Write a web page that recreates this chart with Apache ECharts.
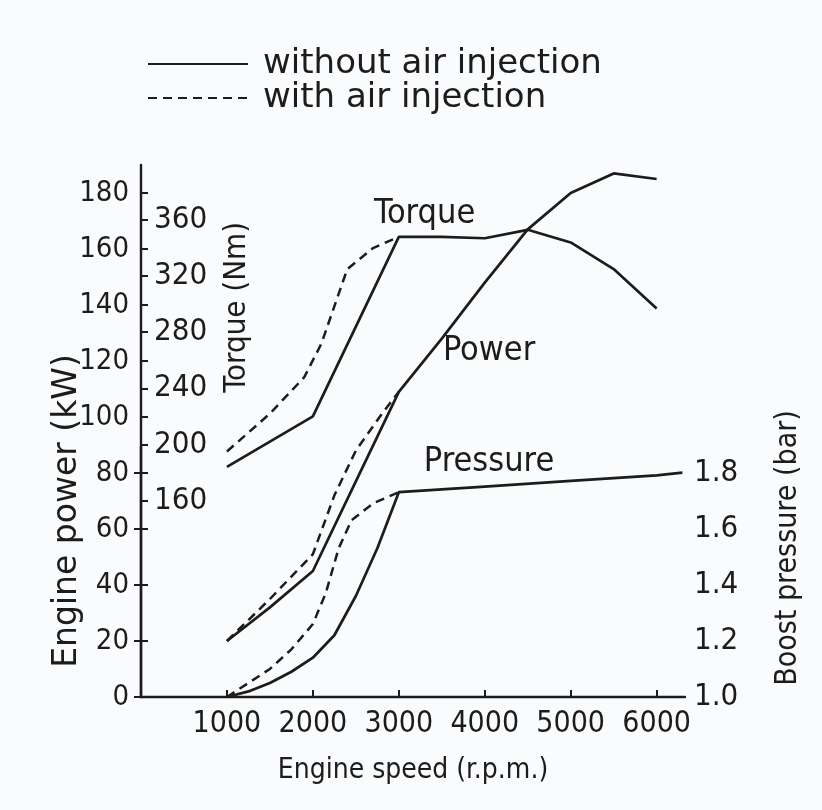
<!DOCTYPE html>
<html><head><meta charset="utf-8">
<script src="https://cdn.jsdelivr.net/npm/echarts@6/dist/echarts.min.js"></script>
<style>html,body{margin:0;padding:0;background:#fafbfc}#c{width:822px;height:810px}</style>
</head><body><div id="c"></div>
<script>
// ---- data ----
var rpmTicks = [1000, 2000, 3000, 4000, 5000, 6000];
var powerTicks = [0, 20, 40, 60, 80, 100, 120, 140, 160, 180];
var torqueTicks = [160, 200, 240, 280, 320, 360];
var pressureTicks = [1.0, 1.2, 1.4, 1.6, 1.8];

var rpmPowerSolid = [1000, 1500, 2000, 2500, 3000, 3500, 4000, 4500, 5000, 5500, 6000];
var powerSolid    = [20, 32, 45, 77, 109, 128, 148, 167, 180, 187, 185];
var rpmPowerDashed = [1000, 1500, 2000, 2250, 2500, 2800, 3000];
var powerDashed    = [20, 35, 51, 72, 88, 101, 109];

var rpmTorqueSolid = [1000, 2000, 3000, 3500, 4000, 4500, 5000, 5500, 6000];
var torqueSolid    = [184, 220, 348, 348, 347, 353, 344, 325, 297];
var rpmTorqueDashed = [1000, 1500, 1900, 2100, 2400, 2700, 3000];
var torqueDashed    = [195, 222, 248, 272, 325, 340, 348];

var rpmPressureSolid = [1000, 1250, 1500, 1750, 2000, 2250, 2500, 2750, 3000, 4000, 5000, 6000, 6300];
var pressureSolid    = [1.0, 1.02, 1.05, 1.09, 1.14, 1.22, 1.36, 1.53, 1.73, 1.75, 1.77, 1.79, 1.80];
var rpmPressureDashed = [1000, 1250, 1500, 1750, 2000, 2150, 2300, 2450, 2700, 3000];
var pressureDashed    = [1.0, 1.05, 1.10, 1.17, 1.26, 1.37, 1.53, 1.63, 1.69, 1.73];

var NAME_SOLID = 'without air injection';
var NAME_DASHED = 'with air injection';

function pairs(xs, ys) { return xs.map(function (x, i) { return [x, ys[i]]; }); }

var FONT = '"DejaVu Sans Condensed", "Liberation Sans", sans-serif';
var FONT_WIDE = '"DejaVu Sans", "Liberation Sans", sans-serif';
var INK = '#1c1c1c';
var solidStyle = { color: INK, width: 2.7, type: 'solid' };
var dashStyle = { color: INK, width: 2.5, type: [9, 6] };

var chart = echarts.init(document.getElementById('c'), null, { renderer: 'canvas' });

var xBase = { type: 'value', min: 0, max: 6330, interval: 1000 };

function lineSeries(name, x, y, xi, yi, style, mp) {
  var s = {
    name: name, type: 'line', xAxisIndex: xi, yAxisIndex: yi,
    data: pairs(x, y), showSymbol: false, symbol: 'none', smooth: false,
    lineStyle: style, itemStyle: { color: INK }, silent: true, animation: false, z: 3
  };
  if (mp) s.markPoint = mp;
  return s;
}

function labelPoint(text, coord) {
  return {
    symbol: 'circle', symbolSize: 0.1, silent: true,
    itemStyle: { color: 'transparent' },
    label: { show: true, position: 'inside', formatter: text, color: INK, fontFamily: FONT, fontSize: 34 },
    data: [{ coord: coord }]
  };
}

var tickStyle = { color: INK, width: 2 };

var option = {
  backgroundColor: '#fafbfc',
  animation: false,
  textStyle: { fontFamily: FONT, color: INK },
  legend: {
    left: 147, top: 47, orient: 'vertical', itemWidth: 100, itemHeight: 14, itemGap: 0, padding: 0,
    selectedMode: false,
    itemStyle: { color: 'transparent', borderWidth: 0, opacity: 0 },
    data: [NAME_SOLID, NAME_DASHED],
    textStyle: { fontFamily: FONT_WIDE, fontSize: 34, color: INK, padding: [0, 0, 0, 10] }
  },
  grid: [
    { left: 141, right: 137, top: 165, bottom: 113, containLabel: false },
    { left: 141, right: 137, top: 220, bottom: 309.4, containLabel: false },
    { left: 141, right: 137, top: 447, bottom: 113, containLabel: false }
  ],
  xAxis: [
    Object.assign({}, xBase, {
      gridIndex: 0,
      name: 'Engine speed (r.p.m.)', nameLocation: 'middle', nameGap: 60, nameMoveOverlap: false,
      nameTextStyle: { fontFamily: FONT, fontSize: 28, color: INK },
      axisLine: { show: true, lineStyle: { color: INK, width: 2.4 } },
      axisTick: { show: true, inside: true, length: 7, lineStyle: tickStyle, customValues: rpmTicks },
      axisLabel: { show: true, margin: 12, fontFamily: FONT, fontSize: 30, color: INK, customValues: rpmTicks,
        showMinLabel: true, showMaxLabel: true, hideOverlap: false,
        formatter: function (v) { return String(v); } },
      splitLine: { show: false }
    }),
    Object.assign({}, xBase, { gridIndex: 1, show: false, splitLine: { show: false } }),
    Object.assign({}, xBase, { gridIndex: 2, show: false, splitLine: { show: false } })
  ],
  yAxis: [
    {
      gridIndex: 0, type: 'value', min: 0, max: 190, interval: 20, position: 'left',
      name: 'Engine power (kW)', nameLocation: 'middle', nameGap: 57, nameRotate: 90, nameMoveOverlap: false,
      nameTextStyle: { fontFamily: FONT_WIDE, fontSize: 33, color: INK, padding: [0, 160, 0, 0] },
      axisLine: { show: true, lineStyle: { color: INK, width: 2.4 } },
      axisTick: { show: true, inside: true, length: 7, lineStyle: tickStyle, customValues: powerTicks },
      axisLabel: { show: true, margin: 12, fontFamily: FONT, fontSize: 29, color: INK, customValues: powerTicks,
        showMinLabel: true, showMaxLabel: true },
      splitLine: { show: false }
    },
    {
      gridIndex: 1, type: 'value', min: 160, max: 360, interval: 40, position: 'left',
      name: 'Torque (Nm)', nameLocation: 'middle', nameGap: -111, nameRotate: 90, nameMoveOverlap: false,
      nameTextStyle: { fontFamily: FONT, fontSize: 31, color: INK, padding: [0, 0, 0, 106] },
      axisLine: { show: false },
      axisTick: { show: true, inside: true, length: 7, lineStyle: tickStyle, customValues: torqueTicks },
      axisLabel: { show: true, inside: true, margin: 13, fontFamily: FONT, fontSize: 31, color: INK, customValues: torqueTicks,
        showMinLabel: true, showMaxLabel: true },
      splitLine: { show: false }
    },
    {
      gridIndex: 2, type: 'value', min: 1.0, max: 1.891, interval: 0.2, position: 'right',
      name: 'Boost pressure (bar)', nameLocation: 'middle', nameGap: 88, nameRotate: 90, nameMoveOverlap: false,
      nameTextStyle: { fontFamily: FONT, fontSize: 30, color: INK, padding: [0, 0, 0, 48] },
      axisLine: { show: true, lineStyle: { color: INK, width: 2.4 } },
      axisTick: { show: true, inside: true, length: 7, lineStyle: tickStyle, customValues: pressureTicks },
      axisLabel: { show: true, margin: 9, fontFamily: FONT, fontSize: 31, color: INK, customValues: pressureTicks,
        showMinLabel: true, showMaxLabel: true,
        formatter: function (v) { return v.toFixed(1); } },
      splitLine: { show: false }
    }
  ],
  series: [
    lineSeries(NAME_SOLID, rpmPowerSolid, powerSolid, 0, 0, solidStyle, labelPoint('Torque', [3300, 172.5])),
    lineSeries(NAME_DASHED, rpmPowerDashed, powerDashed, 0, 0, dashStyle, labelPoint('Power', [4050, 123.5])),
    lineSeries(NAME_SOLID, rpmTorqueSolid, torqueSolid, 1, 1, solidStyle),
    lineSeries(NAME_DASHED, rpmTorqueDashed, torqueDashed, 1, 1, dashStyle),
    lineSeries(NAME_SOLID, rpmPressureSolid, pressureSolid, 2, 2, solidStyle, labelPoint('Pressure', [4050, 1.838])),
    lineSeries(NAME_DASHED, rpmPressureDashed, pressureDashed, 2, 2, dashStyle)
  ]
};
chart.setOption(option);
</script></body></html>
